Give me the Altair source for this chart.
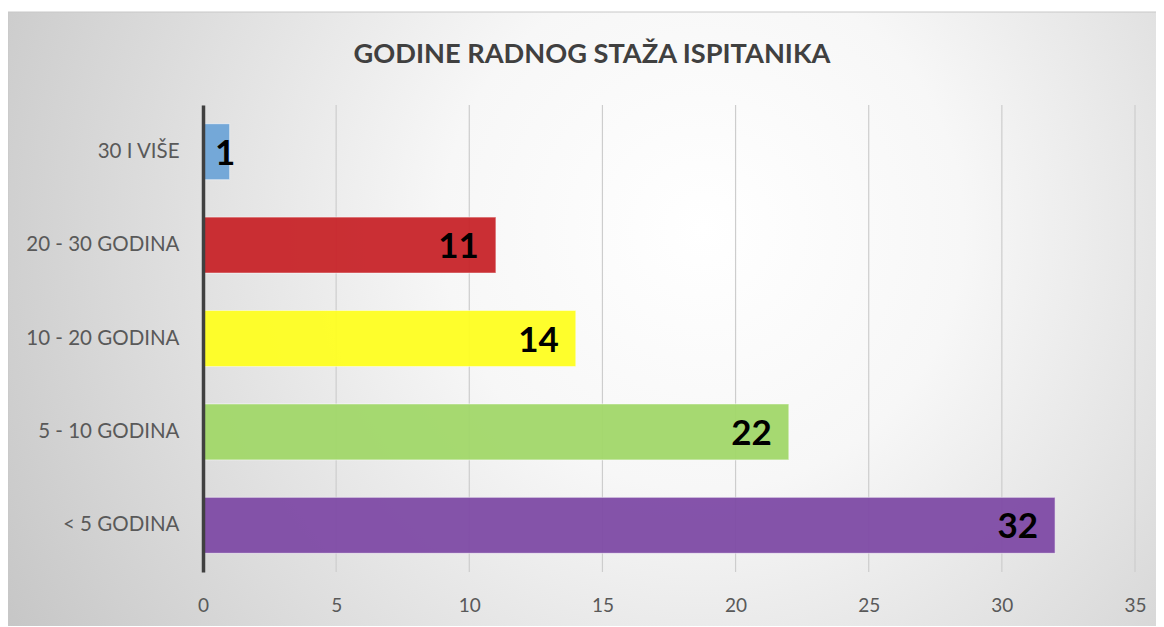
import altair as alt
import pandas as pd

categories = ["30 I VIŠE", "20 - 30 GODINA", "10 - 20 GODINA", "5 - 10 GODINA", "< 5 GODINA"]
values = [1, 11, 14, 22, 32]
colors = ["#6FA5D8", "#C8252A", "#FFFF22", "#A2D86A", "#7F4BA6"]
tick_values = [0, 5, 10, 15, 20, 25, 30, 35]
title_text = "GODINE RADNOG STAŽA ISPITANIKA"

df = pd.DataFrame({"cat": categories, "val": values, "col": colors})
grid_df = pd.DataFrame({"t": tick_values})

W, H = 932, 467
FONT = "Lato"
PAD = {"left": 195, "top": 97, "right": 21, "bottom": 54}

bg = alt.Chart(pd.DataFrame({"a": [0]})).mark_rect(
    fill=alt.RadialGradient(
        gradient="radial",
        stops=[alt.GradientStop(offset=0, color="#ffffff"),
               alt.GradientStop(offset=0.3, color="#f7f7f7"),
               alt.GradientStop(offset=1, color="#c0c0c0")],
        x1=0.6, y1=0.42, r1=0.0, x2=0.6, y2=0.42, r2=0.75,
    ),
    stroke="#c8c8c8", strokeWidth=1, clip=False,
).encode(
    x=alt.value(-PAD["left"]), x2=alt.value(W + PAD["right"] + 10),
    y=alt.value(-93), y2=alt.value(H + PAD["bottom"] + 5),
)

ysc = alt.Scale(domain=categories, paddingInner=0.4, paddingOuter=0.2)
xsc = alt.Scale(domain=[0, 35], nice=False)

grid = alt.Chart(grid_df).mark_rule(color="#cdcdcd", strokeWidth=1.2).encode(
    x=alt.X("t:Q", scale=xsc),
    y=alt.value(0), y2=alt.value(H),
)

bars = alt.Chart(df).mark_bar(opacity=0.95, strokeWidth=1.2, strokeOpacity=0.45, stroke="#ffffff").encode(
    x=alt.X("val:Q", scale=xsc, axis=alt.Axis(
        values=tick_values, grid=False, domain=False, ticks=False, labelPadding=24,
        labelFlush=False, labelFontSize=19, labelColor="#595959", labelFont=FONT,
        title=None, zindex=1)),
    y=alt.Y("cat:N", scale=ysc, sort=categories, axis=alt.Axis(
        domain=True, domainColor="#404040", domainWidth=3.5, ticks=False, grid=False,
        labelPadding=24, labelFontSize=20.5, labelColor="#595959", labelFont=FONT,
        title=None, zindex=1)),
    fill=alt.Fill("col:N", scale=None),
)

labels = alt.Chart(df).transform_calculate(
    pos="max(datum.val, 1.85)"
).mark_text(align="right", baseline="middle", dx=-17, dy=2, fontSize=35,
            fontWeight="bold", font=FONT, color="#000000").encode(
    x=alt.X("pos:Q", scale=xsc),
    y=alt.Y("cat:N", scale=ysc, sort=categories),
    text=alt.Text("val:Q"),
)

title = alt.Chart(pd.DataFrame({"t": [title_text]})).mark_text(
    align="center", baseline="middle", font=FONT, fontSize=27.2, fontWeight="bold",
    color="#404040").encode(
    x=alt.value(389), y=alt.value(-50), text="t:N")

chart = alt.layer(bg, grid, bars, labels, title).properties(
    width=W, height=H,
    padding=PAD,
    autosize=alt.AutoSizeParams(type="none"),
).configure_view(stroke=None).configure(background="#ffffff")

chart.save("out.html", embed_options={"renderer": "svg", "actions": False})
